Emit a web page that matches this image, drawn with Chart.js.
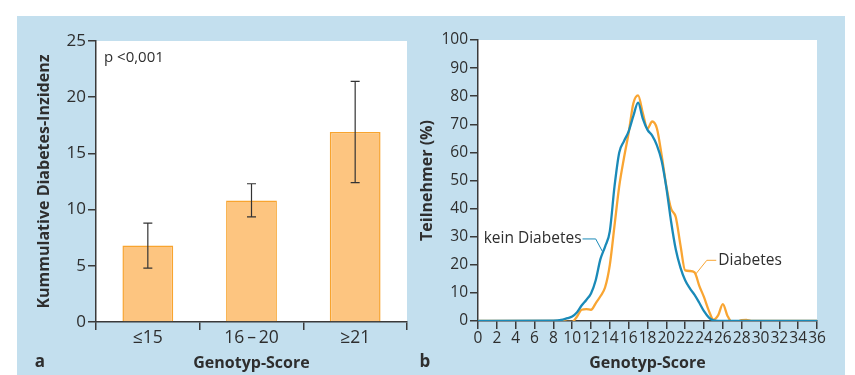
<!DOCTYPE html>
<html>
<head>
<meta charset="utf-8">
<script src="https://cdn.jsdelivr.net/npm/chart.js@4/dist/chart.umd.min.js"></script>
<style>
  html, body { margin: 0; padding: 0; background: #fff; }
  #panel { position: absolute; left: 17px; top: 16px; width: 828px; height: 359px; background: #c3dfee; }
  #barChart { position: absolute; left: 0; top: 0; }
  #lineChart { position: absolute; left: 403px; top: 0; }
</style>
</head>
<body>
<div id="panel">
  <canvas id="barChart" width="403" height="359"></canvas>
  <canvas id="lineChart" width="425" height="359"></canvas>
</div>
<script>
// Teil a: kumulative Diabetes-Inzidenz je Genotyp-Score-Gruppe
const scoreGroups = ['≤15', '16\u2009–\u200920', '≥21'];
const incidence = [6.8, 10.8, 16.9];
const incidenceLow = [4.8, 9.35, 12.4];
const incidenceHigh = [8.8, 12.3, 21.4];

// Teil b: Verteilung des Genotyp-Scores
const scoreValues = [0, 8, 9, 9.5, 10, 10.5, 11, 11.5, 12, 12.5, 13, 13.5, 14, 14.5, 15, 15.5,
  16, 16.5, 17, 17.5, 18, 18.5, 19, 19.5, 20, 20.5, 21, 21.5, 22, 22.5, 23, 23.5,
  24, 24.5, 25, 25.5, 26, 26.5, 27, 27.5, 28, 28.5, 29, 36];
const keinDiabetes = [0, 0.1, 0.5, 1, 1.6, 3, 5.5, 7.5, 9.8, 14.5, 22, 26.5, 32, 48, 60, 64,
  67.5, 73, 77.7, 72, 68, 66, 62.5, 57, 47.5, 35.5, 25.5, 19, 14.5, 11.6, 9.3, 6.5,
  3.5, 1.3, 0.2, 0, 0, 0, 0, 0, 0, 0, 0, 0];
const diabetes = [0, 0, 0, -0.3, -0.3, 1.5, 4, 4.2, 4, 6.3, 8.8, 12, 20, 34, 48, 58,
  67, 77.5, 80.3, 74, 68.5, 71, 68.5, 59, 48, 40, 37, 27, 18, 17.8, 17.3, 12.5,
  8.5, 3.8, 0.5, 2, 6, 1.8, -0.5, -0.3, 0.3, 0.4, 0, 0];

const fontFamily = "'Open Sans', sans-serif";
const textColor = '#2e2e2e';
const axisColor = '#3a3a3a';
const blue = '#1a8ab8';
const orange = '#f9a532';

// weißer Plotbereich
const whiteArea = {
  id: 'whiteArea',
  beforeDraw(chart) {
    const a = chart.chartArea;
    chart.ctx.save();
    chart.ctx.fillStyle = '#fff';
    chart.ctx.fillRect(a.left, a.top, a.right - a.left, a.bottom - a.top);
    chart.ctx.restore();
  }
};

// Fehlerbalken
const errorBars = {
  id: 'errorBars',
  afterDatasetsDraw(chart) {
    const ctx = chart.ctx;
    const y = chart.scales.y;
    const meta = chart.getDatasetMeta(0);
    ctx.save();
    ctx.strokeStyle = '#333';
    ctx.lineWidth = 1.2;
    meta.data.forEach((bar, i) => {
      const lo = y.getPixelForValue(incidenceLow[i]);
      const hi = y.getPixelForValue(incidenceHigh[i]);
      ctx.beginPath();
      ctx.moveTo(bar.x, lo); ctx.lineTo(bar.x, hi);
      ctx.moveTo(bar.x - 4.5, lo); ctx.lineTo(bar.x + 4.5, lo);
      ctx.moveTo(bar.x - 4.5, hi); ctx.lineTo(bar.x + 4.5, hi);
      ctx.stroke();
    });
    ctx.restore();
  }
};

const panelA = {
  id: 'panelA',
  afterDraw(chart) {
    const ctx = chart.ctx;
    const a = chart.chartArea;
    ctx.save();
    ctx.fillStyle = textColor;
    ctx.textBaseline = 'middle';
    ctx.font = '15px ' + fontFamily;
    ctx.fillText('p <0,001', a.left + 8, a.top + 17);
    ctx.font = 'bold 17px ' + fontFamily;
    ctx.textAlign = 'center';
    ctx.fillText('a', 23, 346);
    ctx.restore();
  }
};

// Beschriftungen mit Hinweislinien
const curveLabels = [
  { text: 'kein Diabetes', color: blue, x: 11.1, y: 29.2, elbowX: 12.5, endX: 13.3, endY: 24.2, align: 'right' },
  { text: 'Diabetes', color: orange, x: 25.3, y: 21.6, elbowX: 24.3, endX: 23.05, endY: 16.4, align: 'left' }
];

const panelB = {
  id: 'panelB',
  afterDraw(chart) {
    const ctx = chart.ctx;
    const xs = chart.scales.x, ys = chart.scales.y;
    ctx.save();
    curveLabels.forEach(l => {
      const tx = xs.getPixelForValue(l.x), ty = ys.getPixelForValue(l.y);
      ctx.strokeStyle = l.color;
      ctx.lineWidth = 1;
      ctx.beginPath();
      ctx.moveTo(tx, ty);
      ctx.lineTo(xs.getPixelForValue(l.elbowX), ty);
      ctx.lineTo(xs.getPixelForValue(l.endX), ys.getPixelForValue(l.endY));
      ctx.stroke();
      ctx.fillStyle = textColor;
      ctx.font = '15.5px ' + fontFamily;
      ctx.textBaseline = 'middle';
      ctx.textAlign = l.align;
      ctx.fillText(l.text, l.align === 'right' ? tx - 1 : tx + 2, ty);
    });
    ctx.font = 'bold 17px ' + fontFamily;
    ctx.fillStyle = textColor;
    ctx.textAlign = 'center';
    ctx.textBaseline = 'middle';
    ctx.fillText('b', 5, 346);
    ctx.restore();
  }
};

function axisGrid() {
  return { drawOnChartArea: false, color: axisColor, lineWidth: 1.5, tickLength: 8 };
}

new Chart(document.getElementById('barChart'), {
  type: 'bar',
  data: {
    labels: scoreGroups,
    datasets: [{
      data: incidence,
      backgroundColor: '#fdc580',
      borderColor: '#f8a42f',
      borderWidth: 1.5,
      barPercentage: 0.49,
      categoryPercentage: 1
    }]
  },
  options: {
    responsive: false,
    animation: false,
    layout: { padding: { top: 25, right: 13, left: 0, bottom: 0 } },
    plugins: { legend: { display: false }, tooltip: { enabled: false } },
    scales: {
      x: {
        grid: Object.assign(axisGrid(), { offset: true }),
        border: { color: axisColor, width: 1.5 },
        ticks: { color: textColor, font: { family: fontFamily, size: 17.5 }, padding: -2 },
        title: { display: true, text: 'Genotyp-Score', color: textColor,
          font: { family: fontFamily, size: 16, weight: 'bold' }, padding: { top: 0, bottom: 2 } },
        afterFit: s => { s.height = 53; }
      },
      y: {
        min: 0, max: 25,
        grid: axisGrid(),
        border: { color: axisColor, width: 1.5 },
        ticks: { stepSize: 5, color: textColor, font: { family: fontFamily, size: 17 }, padding: 2 },
        title: { display: true, text: 'Kummulative Diabetes-Inzidenz', color: textColor,
          font: { family: fontFamily, size: 16, weight: 'bold' }, padding: { top: 18, bottom: 0 } },
        afterFit: s => { s.width = 79; }
      }
    }
  },
  plugins: [whiteArea, errorBars, panelA]
});

new Chart(document.getElementById('lineChart'), {
  type: 'line',
  data: {
    datasets: [
      { label: 'kein Diabetes', data: scoreValues.map((x, i) => ({ x, y: keinDiabetes[i] })),
        borderColor: blue, borderWidth: 2.3, pointRadius: 0, cubicInterpolationMode: 'monotone', fill: false },
      { label: 'Diabetes', data: scoreValues.map((x, i) => ({ x, y: diabetes[i] })),
        borderColor: orange, borderWidth: 2.3, pointRadius: 0, cubicInterpolationMode: 'monotone', fill: false }
    ]
  },
  options: {
    responsive: false,
    animation: false,
    layout: { padding: { top: 24, right: 28, left: 0, bottom: 0 } },
    plugins: { legend: { display: false }, tooltip: { enabled: false } },
    scales: {
      x: {
        type: 'linear', min: 0, max: 36,
        grid: axisGrid(),
        border: { color: axisColor, width: 1.5 },
        ticks: { stepSize: 2, autoSkip: false, maxRotation: 0, color: textColor,
          font: { family: fontFamily, size: 15.5 }, padding: 0 },
        title: { display: true, text: 'Genotyp-Score', color: textColor,
          font: { family: fontFamily, size: 16, weight: 'bold' }, padding: { top: 0, bottom: 2 } },
        afterFit: s => { s.height = 54; }
      },
      y: {
        min: 0, max: 100,
        grid: axisGrid(),
        border: { color: axisColor, width: 1.5 },
        ticks: { stepSize: 10, color: textColor, font: { family: fontFamily, size: 15.5 }, padding: 2 },
        title: { display: true, text: 'Teilnehmer (%)', color: textColor,
          font: { family: fontFamily, size: 16, weight: 'bold' }, padding: { top: -2, bottom: 0 } },
        afterFit: s => { s.width = 58; }
      }
    }
  },
  plugins: [whiteArea, panelB]
});
</script>
</body>
</html>
